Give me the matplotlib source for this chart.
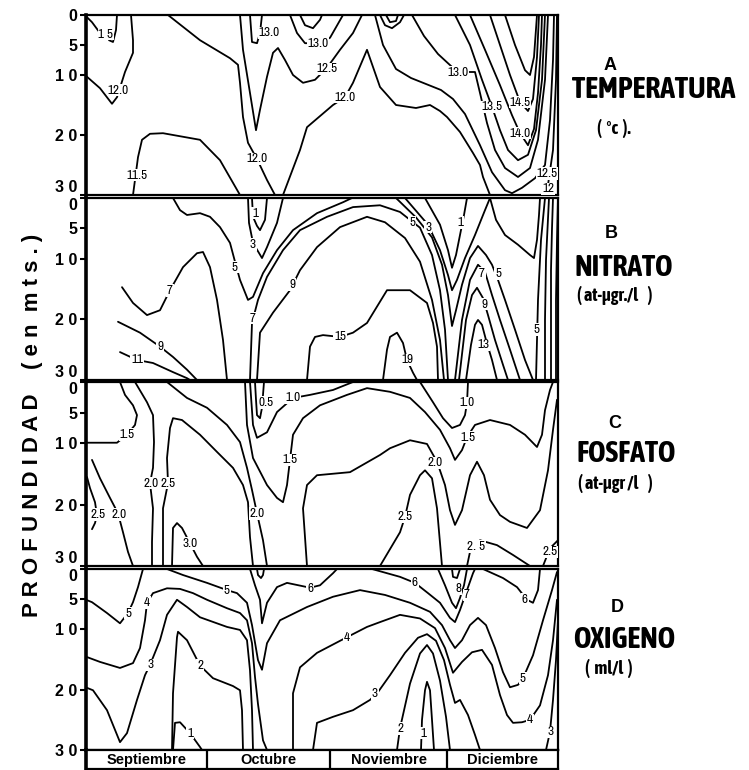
import matplotlib
matplotlib.use("Agg")
import matplotlib.pyplot as plt
from matplotlib import font_manager as fm
from matplotlib.font_manager import FontProperties

# ---------- font selection (narrow face if one is installed) ----------
_W = {"ultralight": 100, "light": 300, "normal": 400, "regular": 400, "book": 400, "medium": 500,
      "semibold": 600, "demibold": 600, "bold": 700, "heavy": 800, "extra bold": 800, "black": 900}
_S = {"ultra-condensed": 50, "extra-condensed": 62, "condensed": 75, "semi-condensed": 87,
      "normal": 100, "semi-expanded": 112, "expanded": 125}

def _num(v, table, default):
    if isinstance(v, (int, float)):
        return v
    return table.get(str(v).lower(), default)

def find_condensed(bold, target=87):
    best, score = None, None
    pref = ["Liberation Sans Narrow", "Noto Sans", "DejaVu Sans Condensed", "Roboto", "Open Sans", "Lato"]
    for f in fm.fontManager.ttflist:
        if f.name not in pref and "Narrow" not in f.name and "Condensed" not in f.name:
            continue
        st = _num(f.stretch, _S, 100)
        if "Narrow" in f.name:
            st = min(st, 82)
        elif "Condensed" in f.name and st == 100:
            st = 80
        if st >= 100:
            continue
        if str(f.style).lower() != "normal":
            continue
        w = _num(f.weight, _W, 400)
        want = 700 if bold else 400
        fam_rank = pref.index(f.name) if f.name in pref else 2
        sc = (abs(w - want), abs(st - target), fam_rank)
        if score is None or sc < score:
            best, score = f.fname, sc
    return best

COND_B = find_condensed(True)
COND_R = find_condensed(False)

def cfont(size, bold=False):
    path = COND_B if bold else COND_R
    if path:
        return FontProperties(fname=path, size=size)
    return FontProperties(family="Roboto", weight="bold" if bold else "normal", size=size * 0.9)

SANS = "Liberation Sans" if "Liberation Sans" in {f.name for f in fm.fontManager.ttflist} else "DejaVu Sans"

# ---------------- data ----------------
months = ["Septiembre", "Octubre", "Noviembre", "Diciembre"]
month_edges = [0, 121, 244, 361, 472]          # time axis position of month limits
depth_ticks = [0, 5, 10, 20, 30]
depth_tick_labels = ["0", "5", "1 0", "2 0", "3 0"]

# each isoline: (value, time positions, depths in m)
temp_lines = [
    (12.5, [0, 6, 14], [0.2, 1.2, 3.0]),
    (12.5, [31, 30, 27, 23], [0, 2.5, 4.5, 4.2]),
    (12.0, [1, 14, 26, 31, 39, 47, 47, 45], [10.3, 12.2, 14.8, 13.7, 9.5, 6.3, 4.2, 0]),
    (11.5, [47, 52, 56, 64, 77, 114, 134, 154], [30, 23.7, 20.8, 19.8, 19.7, 20.8, 24.2, 30]),
    (12.0, [82, 114, 144, 152, 154, 157, 162, 171, 181, 189], [0, 4.2, 7.2, 8.3, 11.3, 17, 21.3, 24, 27.5, 30]),
    (12.5, [154, 157, 164, 170, 174, 181, 187, 192, 199, 207, 217, 229, 241, 254, 267, 276],
           [0, 5.8, 13, 19.2, 15.8, 10.3, 6.3, 5.5, 7.5, 10, 11.3, 10.8, 8.8, 5.8, 3, 0]),
    (13.0, [164, 166, 171, 174, 176], [0, 4.5, 4.7, 3, 0]),
    (13.0, [204, 211, 219, 232, 244, 257], [0, 3, 4.7, 4.7, 3.8, 0]),
    (13.5, [214, 219, 227, 234, 236], [0, 1.7, 2.2, 0.8, 0]),
    (13.0, [294, 299, 306, 314, 318], [0, 1.7, 2.2, 1.2, 0]),
    (13.5, [300, 304, 310, 312], [0, 1.2, 1, 0]),
    (12.0, [197, 214, 221, 247, 259, 267, 281, 294, 310, 330, 344, 354, 361, 374, 387, 394, 397, 404],
           [30, 22.5, 18.7, 15, 13.7, 11.3, 5.8, 12, 15, 15.5, 15, 16, 17, 19.5, 23, 25, 27, 30]),
    (12.5, [289, 297, 310, 325, 340, 355, 367, 379, 394, 406, 419, 426, 436, 449, 459, 464, 467, 468],
           [0, 5, 9, 10.5, 11.5, 12.5, 14, 16.5, 21.7, 26.2, 29.2, 29.7, 28.8, 27.2, 25, 17.5, 7.5, 0]),
    (13.0, [326, 338, 352, 365, 372, 389, 394, 401, 409, 419, 432, 444, 452, 459, 462],
           [0, 3.5, 6.5, 8.5, 9.5, 9.5, 13, 18, 22.5, 25.5, 27, 25.5, 20.8, 10.8, 0]),
    (13.5, [369, 384, 396, 406, 414, 422, 432, 442, 450, 456, 459],
           [0, 5, 10.8, 15.3, 19.2, 22.5, 24.2, 23.3, 19.2, 10.8, 0]),
    (14.0, [384, 399, 414, 426, 434, 442, 448, 452, 455, 456],
           [0, 5.8, 11.7, 16.7, 19.7, 21.7, 19, 13, 5, 0]),
    (14.5, [404, 414, 424, 434, 442, 447, 451, 453], [0, 5, 10, 14.5, 16, 14, 7, 0]),
    (15.0, [419, 429, 439, 444, 448, 451], [0, 5, 9.2, 10, 7, 0]),
    (12.0, [457, 462, 467, 470, 471], [30, 28.3, 22.5, 10.8, 0]),
]
temp_labels = [("1 5", 20, 3.2), ("12.0", 32, 12.5), ("11.5", 51, 26.7), ("12.0", 171, 24),
               ("12.5", 241, 9.0), ("13.0", 183, 3), ("13.0", 232, 4.7), ("12.0", 259, 13.7),
               ("13.0", 372, 9.5), ("13.5", 406, 15.3), ("14.5", 434, 14.5), ("14.0", 434, 19.7),
               ("12.5", 461, 26.4), ("12", 462, 29.0)]

nitr_lines = [
    (5, [87, 94, 101, 114, 124, 134, 144, 149, 154, 162, 167, 177, 191, 207, 231, 257, 266],
        [0, 2.0, 2.8, 2.5, 3.1, 4.8, 7.4, 10.5, 13.5, 16.8, 16.3, 12.4, 8.6, 5.3, 2.5, 0.7, 0]),
    (3, [162, 163, 167, 176, 181, 191, 197], [0, 4.1, 7.4, 9.9, 8.1, 4.1, 0]),
    (1, [166, 167, 171, 174, 179, 181], [0, 3.1, 4.6, 5.3, 3.6, 0]),
    (7, [36, 47, 61, 74, 84, 97, 111, 117, 124, 131, 137, 141],
        [14.7, 17.3, 19.3, 18.5, 15.2, 11.4, 9.1, 8.9, 11.4, 16.8, 23.4, 30]),
    (9, [32, 54, 74, 87, 101, 111], [20.4, 22.2, 24.5, 26.2, 28.3, 30]),
    (11, [34, 51, 67, 87, 101, 104], [25.4, 26.7, 27.2, 28.7, 29.7, 30]),
    (7, [164, 166, 172, 181, 197, 214, 241, 267, 294, 314, 334, 346, 354, 359, 362],
        [30, 20.6, 16.8, 13, 8.6, 5.3, 3.1, 1.5, 1.2, 2.3, 4.9, 9.4, 15.2, 21.7, 30]),
    (9, [171, 174, 187, 204, 214, 231, 254, 281, 299, 319, 334, 346, 354, 358],
        [30, 22.2, 18.9, 15.2, 11.9, 8.1, 4.8, 3.1, 4, 6.6, 10.5, 16.8, 23.4, 30]),
    (5, [310, 330, 346, 356, 362, 366, 370, 376, 384, 392, 400, 406, 412, 419, 429, 439, 447],
        [0, 3.2, 6.5, 11, 16, 21.1, 18.5, 14.3, 9.9, 7.9, 9.4, 11, 13.5, 16.8, 21.7, 26.7, 30]),
    (3, [319, 342, 354, 362, 366, 371, 379, 389, 399, 404], [0, 4.4, 8.6, 12.7, 15.2, 13.5, 9.9, 6.1, 2, 0]),
    (1, [339, 354, 362, 366, 370, 374, 378, 381], [0, 4.4, 8.6, 11.5, 9.4, 6.1, 2.8, 0]),
    (3, [404, 410, 419, 432, 444, 448, 451, 453, 454], [0, 3.6, 6.1, 7.7, 9.4, 9.9, 6.9, 2.8, 0]),
    (7, [369, 376, 384, 392, 399, 406, 414, 424, 434], [30, 20.1, 13.5, 11, 12.2, 16, 20.1, 25, 30]),
    (9, [373, 380, 386, 391, 397, 402, 409, 417, 422], [30, 20.1, 16, 14.8, 16.5, 19.3, 23.4, 27.5, 30]),
    (13, [380, 385, 389, 392, 396, 400, 406, 411], [30, 24.2, 20.9, 20.1, 20.9, 23.4, 26.7, 30]),
    (5, [459, 455, 452, 451, 450], [0, 6.9, 16.8, 23.4, 30]),
    (7, [463, 460, 459, 459], [0, 10.2, 20.1, 30]),
    (9, [467, 466, 465, 465], [0, 5, 11.9, 30]),
    (11, [472, 471, 470, 470], [0, 6.9, 16.8, 30]),
    (15, [221, 224, 229, 237, 254, 267, 281, 301, 324, 341, 347, 351, 352],
         [30, 24.5, 22.9, 22.6, 22.9, 22.2, 20.6, 15.2, 15.2, 17.3, 20.6, 24.5, 30]),
    (19, [297, 301, 304, 311, 317, 321, 327, 331], [30, 25, 22.9, 22.2, 23.9, 26.7, 28.8, 30]),
]
nitr_labels = [("5", 149, 11.4), ("3", 167, 7.7), ("1", 169, 2.5), ("7", 84, 15.2), ("9", 74, 24.5),
               ("11", 51, 26.7), ("7", 167, 19.8), ("9", 206, 14.3), ("15", 254, 22.9), ("19", 321, 26.7),
               ("5", 326, 4.0), ("3", 342, 4.8), ("1", 374, 4.0), ("7", 396, 12.4), ("5", 412, 12.5),
               ("9", 399, 17.5), ("13", 397, 24.2), ("5", 451, 21.7)]

fosf_lines = [
    (1.5, [34, 39, 47, 51, 49, 41, 31, 14, 1], [0, 2.1, 3.8, 5.4, 7, 8.6, 9.9, 9.9, 9.9]),
    (2.5, [1, 4, 9, 11, 9, 6], [15.5, 17.3, 19.6, 21.7, 23, 24]),
    (2.0, [6, 14, 24, 32, 37, 42, 47], [12.7, 15.7, 18.9, 21.4, 24.5, 27.7, 30]),
    (2.0, [49, 61, 67, 68, 67, 64, 67, 66, 66], [0, 3.3, 5.4, 9.8, 14, 16.5, 20.6, 26.1, 30]),
    (2.5, [77, 77, 82, 81, 84, 87, 96, 114, 131, 147, 157, 162, 164, 167],
          [30, 20.6, 16.5, 12.4, 7.5, 5.9, 6.2, 8.6, 11.4, 14, 16.8, 19.6, 25.3, 30]),
    (3.0, [86, 87, 91, 96, 104, 111, 117], [30, 23.8, 23, 23.8, 26.3, 28.5, 30]),
    (2.0, [81, 101, 121, 141, 154, 161, 166, 171, 177, 181], [0, 2.6, 4.2, 7, 9.8, 14, 17.6, 21.4, 25.8, 30]),
    (0.5, [169, 170, 171, 174, 176, 177, 178], [0, 2.9, 5.4, 5.9, 4.2, 2.1, 0]),
    (1.0, [164, 167, 171, 181, 191, 207, 224, 247, 267], [0, 7, 9.1, 8.2, 4.9, 2.6, 2.1, 1.3, 0]),
    (1.5, [159, 161, 167, 181, 191, 197, 201, 204, 207, 217, 234, 261, 281, 304, 324, 339, 354, 364, 369,
           376, 381, 389, 404, 424, 439, 451, 456, 459, 464, 467],
          [0, 7, 12.4, 16.8, 18.9, 19.6, 16.8, 12.7, 8.6, 5.9, 3.8, 2.1, 1.0, 1.6, 2.6, 4.9, 7.8, 10.8, 12.7,
           11.1, 9, 7, 6.2, 7, 8.6, 10.6, 8.6, 4.6, 1.3, 0]),
    (2.0, [221, 217, 221, 231, 264, 294, 304, 324, 341, 351, 359, 364, 369, 376, 384, 391, 398, 404, 414,
           424, 441, 454, 462, 467, 471],
          [30, 20.6, 16.8, 15.2, 14.7, 11.9, 10.8, 9.5, 10.1, 13, 16.8, 20.9, 23.3, 20.9, 15.2, 13, 15.2,
           19.2, 21.7, 22.8, 23.8, 20.9, 14.4, 7.8, 2.9]),
    (2.5, [294, 314, 319, 324, 334, 339, 346, 351, 356], [30, 24.5, 22, 18.4, 15.2, 14.4, 15.7, 20.6, 30]),
    (2.5, [381, 384, 390, 394, 411, 427, 444], [30, 27.7, 26.8, 25.8, 26.6, 28.2, 30]),
    (2.5, [457, 464, 472], [30, 27.1, 25.8]),
    (1.0, [334, 347, 357, 366, 374, 379, 381, 382], [0, 3.3, 5.9, 7.5, 7, 5.4, 3.4, 0]),
]
fosf_labels = [("1.5", 41, 8.6), ("2.5", 12, 21.6), ("2.0", 33, 21.6), ("2.0", 65, 16.5), ("2.5", 82, 16.5),
               ("3.0", 104, 26.3), ("2.0", 171, 21.4), ("0.5", 180, 3.3), ("1.0", 207, 2.6), ("1.5", 204, 12.7),
               ("1.0", 381, 3.4), ("1.5", 382, 9.0), ("2.0", 349, 13.2), ("2.5", 319, 22), ("2. 5", 390, 26.8),
               ("2.5", 464, 27.7)]

oxig_lines = [
    (5, [0, 6, 21, 34, 42, 47, 52, 57], [5.1, 5.5, 7.3, 9, 7.3, 5.5, 3, 0]),
    (4, [1, 14, 34, 47, 54, 59, 61, 67, 81, 94, 107, 121, 141, 154, 161, 166, 169, 172, 177, 181],
        [14.6, 15.4, 16.4, 15.6, 13.1, 8.5, 5.6, 4, 3.2, 3.3, 4, 5.1, 6.5, 7.3, 8.5, 12.3, 17.9, 22.4, 28.4, 30]),
    (3, [1, 7, 21, 34, 41, 51, 59, 64, 74, 81, 91, 101, 114, 141, 154, 161, 164, 166, 167],
        [19.7, 20.1, 23.4, 28.7, 27.2, 21.7, 17.6, 15.9, 11.8, 7.6, 5.1, 6.3, 8, 9.6, 10.1, 11.8, 16.8, 23.4, 30]),
    (2, [86, 87, 91, 92, 101, 114, 127, 147, 154, 156, 157], [30, 20.6, 11.3, 10.4, 11.8, 16, 18.1, 19.4, 20.1, 23.4, 30]),
    (1, [87, 89, 94, 104, 114, 116], [30, 25.5, 25.4, 27.2, 29.5, 30]),
    (5, [81, 97, 121, 141, 151, 161, 166, 172, 176, 181, 194, 221, 247, 274, 299, 324, 344, 356, 364, 369,
         376, 384, 392, 400, 409, 417, 424, 432, 437, 447, 457, 466, 471],
        [0, 1, 2.3, 3.5, 4, 5.6, 9.3, 15.1, 16.7, 12.3, 8.5, 6.3, 4.6, 3.5, 4.3, 5.6, 7.1, 9.3, 11.8, 13.1,
         11.8, 9.3, 8.1, 9.3, 13.1, 17.1, 19.6, 19.2, 18.1, 14.3, 8.5, 3.5, 0.5]),
    (4, [207, 207, 214, 231, 261, 281, 294, 314, 334, 349, 359, 367, 376, 386, 396, 406, 414, 421, 427, 436,
         444, 454, 462, 467, 471],
        [30, 20.6, 16.3, 13.9, 11.3, 9.6, 8.8, 7.6, 8.2, 9.8, 13.1, 17.2, 15.4, 13.8, 13.4, 15.9, 20.9, 24.2,
         25.5, 25.4, 25, 22.6, 17.6, 11.8, 5.1]),
    (3, [227, 231, 247, 267, 284, 292, 304, 319, 332, 341, 350, 358, 364, 369, 374, 382, 389, 394],
        [30, 25.5, 24.5, 23.4, 21.7, 20.4, 17.6, 13.9, 11.4, 10.8, 11.9, 15.1, 19.2, 22.2, 21.7, 24.2, 27.5, 30]),
    (2, [311, 314, 324, 334, 341, 347, 354, 360, 364], [30, 26.4, 19, 14, 12.6, 14, 18.5, 24.5, 30]),
    (1, [335, 336, 339, 341, 344, 346, 348], [30, 25, 20.1, 18.7, 20.1, 25, 30]),
    (6, [164, 169, 174, 176, 181, 191, 201, 224, 234, 247, 251], [0, 2.7, 5.1, 9, 5.6, 3, 2.3, 3.1, 2.7, 0.7, 0]),
    (7, [171, 172, 175, 177, 178], [0, 1, 1.5, 1, 0]),
    (6, [286, 314, 329, 342, 354, 364, 369, 374, 381, 387, 389], [0, 1.3, 2.3, 4, 5.6, 8.1, 8.8, 6.8, 3.5, 0.7, 0]),
    (7, [352, 359, 366, 370, 374, 378, 381], [0, 2.7, 5.6, 6.5, 4.8, 2.7, 0]),
    (8, [366, 367, 371, 374], [0, 1.3, 1.5, 0]),
    (6, [397, 417, 431, 441, 447, 452, 454], [0, 1.5, 3, 5.1, 5.6, 3.5, 0]),
    (3, [460, 464, 467, 470, 472], [30, 27, 21.7, 15.1, 8.5]),
]
oxig_labels = [("5", 42, 7.3), ("4", 61, 5.6), ("3", 64, 15.9), ("2", 114, 16), ("1", 104, 27.2),
               ("5", 141, 3.5), ("6", 224, 3.2), ("4", 261, 11.3), ("3", 289, 20.6), ("2", 314, 26.4),
               ("1", 337, 27.2), ("6", 329, 2.3), ("8", 372, 3.2), ("7", 381, 4.3), ("6", 439, 5.1),
               ("5", 437, 18.1), ("4", 444, 25), ("3", 464, 27)]

panel_letters = ["A", "B", "C", "D"]
panel_names = ["TEMPERATURA", "NITRATO", "FOSFATO", "OXIGENO"]
panel_units = ["(  \u00b0c  ).", "( at-\u00b5gr./l    )", "( at-\u00b5gr /l    )", "(  ml/l  )"]

# ---------------- figure ----------------
W, H = 749, 770
fig = plt.figure(figsize=(W / 100, H / 100), dpi=100)
fig.patch.set_facecolor("white")

def px_axes(l, t, r, b):
    return fig.add_axes([l / W, 1 - b / H, (r - l) / W, (b - t) / H])

def ftext(x, y, s, **kw):
    return fig.text(x / W, 1 - y / H, s, **kw)

boxes = [(86, 15, 558, 195), (86, 198, 558, 380), (86, 382, 558, 566), (86, 569, 558, 750)]
letter_pos = [(610, 65), (611, 234), (615, 423), (617, 608)]
name_pos = [(572, 90), (575, 267), (577, 454), (573, 639)]
unit_pos = [(597, 129), (577, 295), (578, 483), (585, 668)]
datasets = [(temp_lines, temp_labels), (nitr_lines, nitr_labels),
            (fosf_lines, fosf_labels), (oxig_lines, oxig_labels)]

for i, (box, (lines, labels)) in enumerate(zip(boxes, datasets)):
    ax = px_axes(*box)
    for val, xs, ds in lines:
        ax.plot(xs, ds, color="black", lw=1.3, solid_capstyle="round", solid_joinstyle="round", zorder=2)
    for txt, x, d in labels:
        ax.text(x, d, txt, ha="center", va="center", fontproperties=cfont(9.5),
                bbox=dict(boxstyle="square,pad=0.06", fc="white", ec="none"), zorder=3)
    ax.set_xlim(month_edges[0], month_edges[-1])
    ax.set_ylim(30, 0)
    ax.set_xticks([])
    ax.set_yticks(depth_ticks)
    ax.set_yticklabels(depth_tick_labels, family=SANS, fontweight="bold", fontsize=11.5)
    ax.tick_params(axis="y", direction="out", length=4, width=1.5, pad=2)
    for s in ax.spines.values():
        s.set_linewidth(1.6)
    ax.spines["left"].set_linewidth(2.6)
    tl = ax.get_yticklabels()
    if i > 0:
        tl[0].set_va("top")
    if i < 3:
        tl[-1].set_va("bottom")
    ftext(*letter_pos[i], panel_letters[i], ha="center", va="center",
          family=SANS, fontweight="bold", fontsize=13)
    ftext(*name_pos[i], panel_names[i], ha="left", va="center", fontproperties=cfont(21.5, bold=True))
    ftext(*unit_pos[i], panel_units[i], ha="left", va="center", fontproperties=cfont(13, bold=True))

# month bar
axm = px_axes(86, 750, 558, 769)
axm.set_xlim(month_edges[0], month_edges[-1])
axm.set_ylim(0, 1)
axm.set_xticks([])
axm.set_yticks([])
for s in axm.spines.values():
    s.set_linewidth(1.6)
axm.spines["left"].set_linewidth(2.6)
for e in month_edges[1:-1]:
    axm.axvline(e, color="black", lw=1.6)
for m, a, b in zip(months, month_edges[:-1], month_edges[1:]):
    axm.text((a + b) / 2, 0.45, m, ha="center", va="center", family=SANS, fontweight="bold", fontsize=10.5)

ftext(33, 425, "P R O F U N D I D A D    ( e n  m t s . )", rotation=90,
      ha="center", va="center", family=SANS, fontweight="bold", fontsize=16)

fig.savefig("out.png", dpi=100, facecolor="white")
